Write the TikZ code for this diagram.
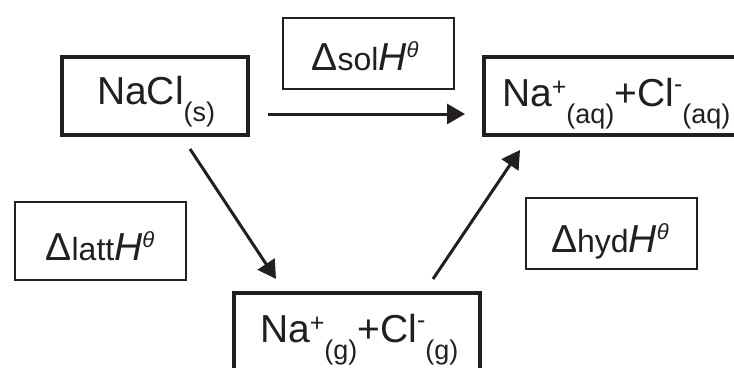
\documentclass[tikz,border=0pt]{standalone}
\usepackage{fontspec}
\setmainfont{Liberation Sans}
\usetikzlibrary{arrows.meta,calc}
\definecolor{ink}{HTML}{231F20}
\newcommand\bigf{\fontsize{39}{39}\selectfont}
\newcommand\chsub[1]{\raisebox{-17pt}{\fontsize{27}{27}\selectfont #1}}
\newcommand\chplus{\raisebox{11pt}{\fontsize{25}{25}\selectfont +}}
\newcommand\chminus{\raisebox{14pt}{\fontsize{25}{25}\selectfont -}}
\newcommand\enth[1]{{\bigf Δ}{\fontsize{32}{32}\selectfont #1}{\bigf\itshape H}\raisebox{13pt}{\fontsize{22}{22}\selectfont\itshape θ}}
\tikzset{
  bigbox/.style={draw=ink, line width=4pt, rectangle, inner sep=0pt, outer sep=0pt},
  smallbox/.style={draw=ink, line width=2.5pt, rectangle, inner sep=0pt, outer sep=0pt},
  lbl/.style={inner sep=0pt, outer sep=0pt, text=ink, font=\bigf},
  arr/.style={draw=ink, line width=3pt, -{Triangle[length=18pt,width=20pt]}}
}
\begin{document}
\begin{tikzpicture}[x=1pt,y=-1pt]
\useasboundingbox (0,0) rectangle (734,367);
\fill[white] (0,0) rectangle (734,367);
\clip (0,0) rectangle (734,367);
% boxes
\node[bigbox, minimum width=186pt, minimum height=78pt] (nacl) at (155,96) {};
\node[bigbox, minimum width=316pt, minimum height=78pt] (aq) at (642,96) {};
\node[bigbox, minimum width=246pt, minimum height=127pt] (gas) at (357,356.5) {};
\node[smallbox, minimum width=171pt, minimum height=71pt] (sol) at (368.5,53.5) {};
\node[smallbox, minimum width=171pt, minimum height=78pt] (latt) at (100.5,241) {};
\node[smallbox, minimum width=171pt, minimum height=71pt] (hyd) at (611.5,233.5) {};
% texts
\node[lbl, anchor=base west] (tnacl) at (97,104) {NaCl\chsub{(s)}};
\node[lbl, anchor=base west] (taq) at (502,106) {Na\chplus\chsub{(aq)}+Cl\chminus\chsub{(aq)}};
\node[lbl, anchor=base west] (tgas) at (260,342) {Na\chplus\chsub{(g)}+Cl\chminus\chsub{(g)}};
\node[lbl, anchor=base] (tsol) at (365,70) {\enth{sol}};
\node[lbl, anchor=base] (tlatt) at (100,260) {\enth{latt}};
\node[lbl, anchor=base] (thyd) at (610,252) {\enth{hyd}};
% arrows
\draw[arr, shorten <=20pt, shorten >=19pt] ([yshift=-18pt]nacl.east) -- ([yshift=-18pt]aq.west);
\draw[arr] ($(nacl.south)+(35,14)$) -- ($(gas.north)+(-81,-14)$);
\draw[arr] ($(gas.north)+(76,-14)$) -- ($(aq.south west)+(36,15)$);
\end{tikzpicture}
\end{document}
